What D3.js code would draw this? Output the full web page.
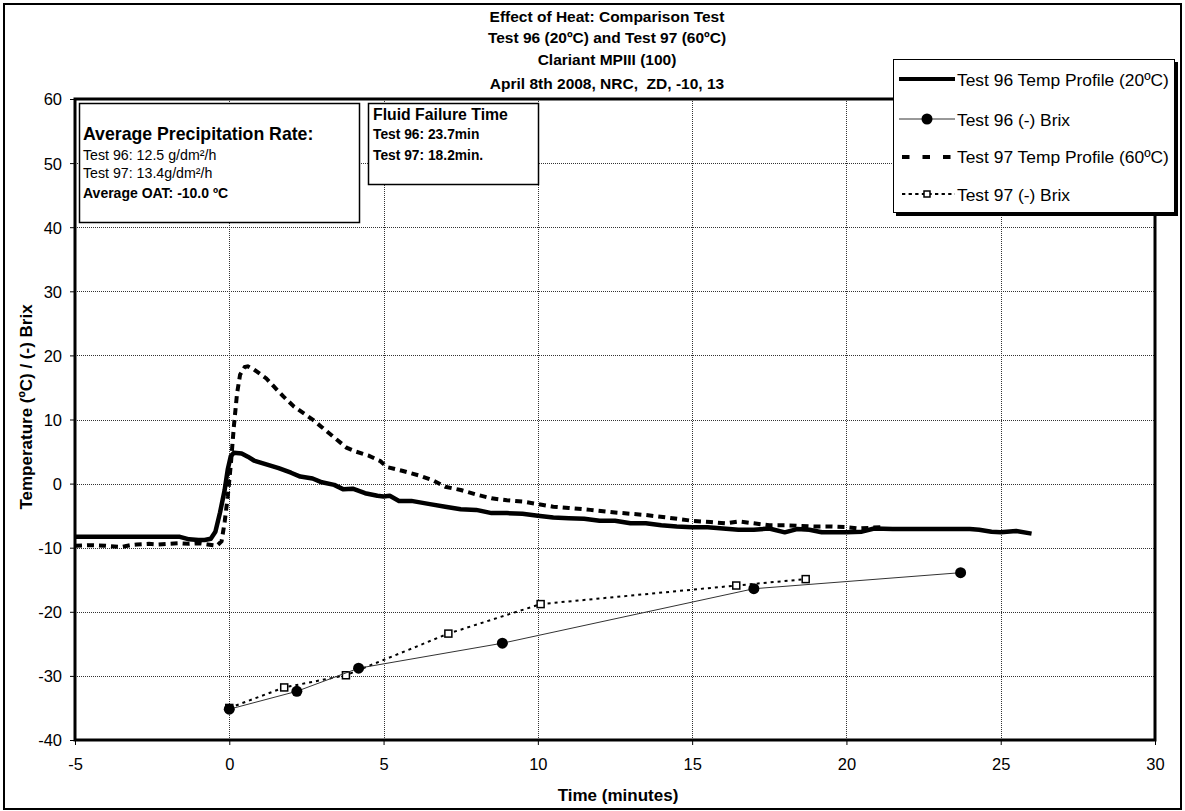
<!DOCTYPE html>
<html>
<head>
<meta charset="utf-8">
<script src="https://cdn.jsdelivr.net/npm/d3@7"></script>
<style>
  html, body { margin: 0; padding: 0; background: #fff; }
  svg { display: block; font-family: Arial, "Liberation Sans", sans-serif; }
  svg text { white-space: pre; }
</style>
</head>
<body>
<svg id="chart" width="1185" height="811"></svg>
<script>
// Test 96 temperature profile (20ºC) — time in minutes, temperature in ºC
const temp96Time = [-5,-4,-3,-2,-1.6,-1.3,-1.0,-0.8,-0.6,-0.45,-0.3,-0.15,-0.05,0.05,0.15,0.4,0.6,0.8,1.2,1.6,2.0,2.3,2.7,3.0,3.4,3.7,4.0,4.4,4.8,5.0,5.2,5.5,5.9,6.5,7.0,7.5,8.0,8.5,9.0,9.5,10,10.5,11,11.5,12,12.5,13,13.5,14,14.5,15,15.5,16,16.5,17,17.5,18,18.4,18.8,19.2,19.6,20,20.5,20.9,21.5,22,23,24,24.3,24.7,25,25.5,26];
const temp96Value = [-8.3,-8.3,-8.3,-8.3,-8.3,-8.7,-8.8,-8.8,-8.6,-7.5,-4.5,-1.0,2.2,4.3,4.8,4.7,4.2,3.6,3.0,2.4,1.7,1.1,0.8,0.2,-0.2,-0.9,-0.8,-1.5,-1.9,-2.0,-1.9,-2.7,-2.7,-3.2,-3.6,-4.0,-4.1,-4.6,-4.6,-4.7,-5.0,-5.3,-5.4,-5.5,-5.8,-5.8,-6.2,-6.2,-6.5,-6.7,-6.8,-6.8,-7.0,-7.2,-7.2,-7.0,-7.6,-7.1,-7.2,-7.6,-7.6,-7.6,-7.5,-7.0,-7.1,-7.1,-7.1,-7.1,-7.2,-7.5,-7.6,-7.4,-7.8];

// Test 97 temperature profile (60ºC)
const temp97Time = [-5,-4.5,-4,-3.5,-3.2,-3,-2.6,-2.3,-2,-1.6,-1.3,-1,-0.7,-0.4,-0.25,-0.15,-0.05,0.05,0.15,0.25,0.35,0.5,0.6,0.8,1.2,1.75,2.1,2.7,3.0,3.5,3.8,4.1,4.5,4.9,5.1,5.6,6.2,6.6,7.0,7.5,8.0,8.5,9.0,9.5,10,10.5,11,11.7,12.5,13.5,14.2,15,15.6,16.1,16.5,17,17.5,18,18.5,19,19.5,20,20.4,21.1];
const temp97Value = [-9.7,-9.6,-9.7,-9.9,-9.6,-9.5,-9.4,-9.5,-9.4,-9.3,-9.4,-9.3,-9.5,-9.7,-9.0,-6.0,-2.0,3.0,9.0,14.0,17.0,18.2,18.3,17.8,16.4,13.6,12.0,10.0,8.8,6.8,5.6,5.0,4.4,3.5,2.6,2.0,1.2,0.5,-0.5,-1.0,-1.7,-2.3,-2.6,-2.8,-3.2,-3.6,-3.8,-4.1,-4.5,-4.9,-5.3,-5.8,-6.0,-6.2,-5.9,-6.2,-6.5,-6.5,-6.6,-6.7,-6.7,-6.8,-7.0,-6.8];

// (-) Brix readings
const brix96Time = [0, 2.19, 4.19, 8.85, 17.0, 23.7];
const brix96Value = [-35.2, -32.4, -28.8, -24.9, -16.4, -13.9];
const brix97Time = [0, 1.78, 3.78, 7.10, 10.09, 16.43, 18.68];
const brix97Value = [-35.0, -31.8, -29.9, -23.4, -18.8, -15.9, -14.9];

// Axis ticks
const xTicks = [-5, 0, 5, 10, 15, 20, 25, 30];
const yTicks = [-40, -30, -20, -10, 0, 10, 20, 30, 40, 50, 60];

// Text blocks
const titleLines = [
  "Effect of Heat: Comparison Test",
  "Test 96 (20ºC) and Test 97 (60ºC)",
  "Clariant MPIII (100)",
  "April 8th 2008, NRC,  ZD, -10, 13"
];
const legendLabels = [
  "Test 96 Temp Profile (20ºC)",
  "Test 96 (-) Brix",
  "Test 97 Temp Profile (60ºC)",
  "Test 97 (-) Brix"
];

const svg = d3.select("#chart");
const plotL = 75, plotR = 1155, plotT = 99, plotB = 740;

const x = d3.scaleLinear().domain([-5, 30]).range([plotL, plotR]);
const y = d3.scaleLinear().domain([-40, 60]).range([plotB, plotT]);

// outer frame
svg.append("rect").attr("x", 4).attr("y", 4).attr("width", 1177).attr("height", 805)
  .attr("fill", "#fff").attr("stroke", "#000").attr("stroke-width", 2);

// gridlines
const grid = svg.append("g").attr("stroke", "#333").attr("stroke-width", 1).attr("stroke-dasharray", "1,1");
grid.selectAll("line.v").data(xTicks.filter(d => d > -5 && d < 30)).join("line")
  .attr("x1", d => Math.round(x(d)) + 0.5).attr("x2", d => Math.round(x(d)) + 0.5)
  .attr("y1", plotT).attr("y2", plotB);
grid.selectAll("line.h").data(yTicks.filter(d => d > -40 && d < 60)).join("line")
  .attr("y1", d => Math.round(y(d)) + 0.5).attr("y2", d => Math.round(y(d)) + 0.5)
  .attr("x1", plotL).attr("x2", plotR);

// axes (plain hyphen for negatives)
const fmt = d => String(d);
const yAxis = svg.append("g").attr("transform", `translate(${plotL},0)`)
  .call(d3.axisLeft(y).tickValues(yTicks).tickSize(5).tickPadding(8).tickFormat(fmt));
const xAxis = svg.append("g").attr("transform", `translate(0,${plotB})`)
  .call(d3.axisBottom(x).tickValues(xTicks).tickSize(5).tickPadding(13).tickFormat(fmt));
[yAxis, xAxis].forEach(a => {
  a.select(".domain").remove();
  a.selectAll(".tick line").attr("stroke", "#000").attr("stroke-width", 1);
  a.selectAll(".tick text").attr("font-size", 16.5).attr("fill", "#000")
    .attr("font-family", "Arial, 'Liberation Sans', sans-serif");
});
yAxis.selectAll(".tick text").attr("dy", "0.36em");
xAxis.selectAll(".tick text").attr("dy", "0.71em");

// plot area border
svg.append("rect").attr("x", plotL).attr("y", plotT).attr("width", plotR - plotL).attr("height", plotB - plotT)
  .attr("fill", "none").attr("stroke", "#000").attr("stroke-width", 3);

const line = d3.line().x(d => x(d[0])).y(d => y(d[1]));
const zip = (a, b) => a.map((t, i) => [t, b[i]]);

// temperature profiles
svg.append("path").datum(zip(temp97Time, temp97Value)).attr("d", line)
  .attr("fill", "none").attr("stroke", "#000").attr("stroke-width", 4).attr("stroke-dasharray", "7,5");
svg.append("path").datum(zip(temp96Time, temp96Value)).attr("d", line)
  .attr("fill", "none").attr("stroke", "#000").attr("stroke-width", 4.5).attr("stroke-linejoin", "round");

// Brix series
const b97 = zip(brix97Time, brix97Value);
svg.append("path").datum(b97).attr("d", line)
  .attr("fill", "none").attr("stroke", "#000").attr("stroke-width", 2).attr("stroke-dasharray", "3,4");
svg.selectAll("rect.b97").data(b97).join("rect")
  .attr("x", d => x(d[0]) - 3.5).attr("y", d => y(d[1]) - 3.5).attr("width", 7).attr("height", 7)
  .attr("fill", "#fff").attr("stroke", "#000").attr("stroke-width", 1.5);

const b96 = zip(brix96Time, brix96Value);
svg.append("path").datum(b96).attr("d", line)
  .attr("fill", "none").attr("stroke", "#333").attr("stroke-width", 1);
svg.selectAll("circle.b96").data(b96).join("circle")
  .attr("cx", d => x(d[0])).attr("cy", d => y(d[1])).attr("r", 5.5).attr("fill", "#000");

// title
svg.append("g").selectAll("text").data(titleLines).join("text")
  .attr("x", 607).attr("y", (d, i) => [22, 43, 65, 89][i])
  .attr("text-anchor", "middle").attr("font-size", 15.5).attr("font-weight", "bold").text(d => d);

// axis titles
svg.append("text").attr("x", 618).attr("y", 801).attr("text-anchor", "middle")
  .attr("font-size", 17).attr("font-weight", "bold").text("Time (minutes)");
svg.append("text").attr("transform", "translate(32,407) rotate(-90)").attr("text-anchor", "middle")
  .attr("font-size", 17).attr("font-weight", "bold").text("Temperature (ºC) / (-) Brix");

// precipitation box
svg.append("rect").attr("x", 79.5).attr("y", 103.5).attr("width", 280).attr("height", 119)
  .attr("fill", "#fff").attr("stroke", "#000").attr("stroke-width", 1.5);
const pb = svg.append("g");
pb.append("text").attr("x", 83).attr("y", 140).attr("font-size", 17.7).attr("font-weight", "bold").text("Average Precipitation Rate:");
pb.append("text").attr("x", 83).attr("y", 160).attr("font-size", 14.2).text("Test 96: 12.5 g/dm²/h");
pb.append("text").attr("x", 83).attr("y", 178).attr("font-size", 14.2).text("Test 97: 13.4g/dm²/h");
pb.append("text").attr("x", 83).attr("y", 198).attr("font-size", 14).attr("font-weight", "bold").text("Average OAT: -10.0 ºC");

// fluid failure box
svg.append("rect").attr("x", 368.5).attr("y", 103.5).attr("width", 170).attr("height", 81)
  .attr("fill", "#fff").attr("stroke", "#000").attr("stroke-width", 1.5);
const fb = svg.append("g");
fb.append("text").attr("x", 373).attr("y", 120).attr("font-size", 15.8).attr("font-weight", "bold").text("Fluid Failure Time");
fb.append("text").attr("x", 373).attr("y", 139).attr("font-size", 13.8).attr("font-weight", "bold").text("Test 96: 23.7min");
fb.append("text").attr("x", 373).attr("y", 160).attr("font-size", 13.8).attr("font-weight", "bold").text("Test 97: 18.2min.");

// legend
const lg = svg.append("g");
lg.append("rect").attr("x", 896).attr("y", 62).attr("width", 282).attr("height", 154).attr("fill", "#000");
lg.append("rect").attr("x", 893.5).attr("y", 59.5).attr("width", 281).attr("height", 153)
  .attr("fill", "#fff").attr("stroke", "#000").attr("stroke-width", 1);
const ly = [79, 119, 157, 194];
const lx0 = 899, lx1 = 955, lxm = 927;
lg.append("line").attr("x1", lx0).attr("x2", lx1).attr("y1", ly[0]).attr("y2", ly[0])
  .attr("stroke", "#000").attr("stroke-width", 4);
lg.append("line").attr("x1", lx0).attr("x2", lx1).attr("y1", ly[1]).attr("y2", ly[1])
  .attr("stroke", "#333").attr("stroke-width", 1);
lg.append("circle").attr("cx", lxm).attr("cy", ly[1]).attr("r", 5.5).attr("fill", "#000");
lg.append("line").attr("x1", lx0 + 3).attr("x2", lx1).attr("y1", ly[2]).attr("y2", ly[2])
  .attr("stroke", "#000").attr("stroke-width", 4).attr("stroke-dasharray", "7.5,13");
lg.append("line").attr("x1", lx0 + 3).attr("x2", lx1).attr("y1", ly[3]).attr("y2", ly[3])
  .attr("stroke", "#000").attr("stroke-width", 2).attr("stroke-dasharray", "3.3,3.3");
lg.append("rect").attr("x", lxm - 3).attr("y", ly[3] - 3).attr("width", 6).attr("height", 6)
  .attr("fill", "#fff").attr("stroke", "#000").attr("stroke-width", 1.5);
lg.selectAll("text").data(legendLabels).join("text")
  .attr("x", 957).attr("y", (d, i) => [86, 126, 163, 200.5][i]).attr("font-size", 17.4).text(d => d);
</script>
</body>
</html>
